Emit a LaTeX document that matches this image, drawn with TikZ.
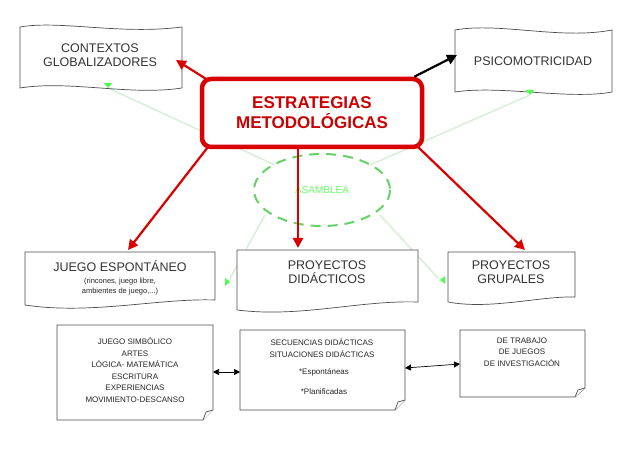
\documentclass[tikz,border=0pt]{standalone}
\usepackage{fontspec}
\setmainfont{Liberation Sans}
\usetikzlibrary{arrows.meta}
\begin{document}
\begin{tikzpicture}[x=1pt,y=-1pt,
  box/.style={draw=black!70,line width=0.7pt,fill=white},
  lbl/.style={align=center,font=\fontsize{12.5}{14}\selectfont,text=black!80},
  sm/.style={align=center,font=\fontsize{8}{11.5}\selectfont,text=black!85},
  redarr/.style={draw=red!85!black,line width=2.2pt,-{Triangle[length=10pt,width=10pt]}},
  greenl/.style={draw=green!60!black!40,line width=1.5pt,opacity=0.4},
  dbl/.style={draw=black,line width=0.7pt,{Triangle[length=6pt,width=6pt]}-{Triangle[length=6pt,width=6pt]}}]
\useasboundingbox (0,0) rectangle (640,449);
% green faint lines
\draw[greenl] (275,165) -- (108,88);
\draw[greenl] (370,165) -- (530,95);
\draw[greenl] (265,215) -- (228,282);
\draw[greenl] (380,215) -- (438,278);
\draw[draw=green!70!black!60,line width=2pt,dash pattern=on 10pt off 7pt] (322,190) ellipse (68 and 36);
\node[text=green!60,font=\fontsize{10}{11}\selectfont] (asam) at (322,190) {ASAMBLEA};
% top boxes
\draw[box] (20,27) .. controls (60,20) and (120,35) .. (182,27) -- (182,88) .. controls (130,96) and (70,80) .. (20,88) -- cycle;
\node[lbl] (ctx) at (100,55) {CONTEXTOS\\GLOBALIZADORES};
\draw[box] (455,30) .. controls (500,22) and (560,40) .. (612,30) -- (612,92) .. controls (570,100) and (500,85) .. (455,92) -- cycle;
\node[lbl] (psi) at (533,61) {PSICOMOTRICIDAD};
\fill[green!70] (108,88) -- ++(-4,-5) -- ++(8,0) -- cycle;
\fill[green!70] (530,95) -- ++(-4,-5) -- ++(8,0) -- cycle;
% middle boxes
\draw[box] (25,252) -- (215,252) -- (215,300) .. controls (160,298) and (90,315) .. (25,305) -- cycle;
\node[lbl] (je) at (120,266) {JUEGO ESPONTÁNEO};
\node[sm,font=\fontsize{7.5}{10}\selectfont] (jes) at (120,287) {(rincones, juego libre,\\ambientes de juego,...)};
\draw[box] (237,250) -- (418,250) -- (418,302) .. controls (360,300) and (300,318) .. (237,310) -- cycle;
\node[lbl] (pd) at (327,272) {PROYECTOS\\DIDÁCTICOS};
\draw[box] (448,252) -- (575,252) -- (575,297) .. controls (540,296) and (490,310) .. (448,302) -- cycle;
\node[lbl] (pg) at (511,272) {PROYECTOS\\GRUPALES};
\fill[green!70] (230,282) -- ++(-5,-4) -- ++(0,8) -- cycle;
\fill[green!70] (440,280) -- ++(5,-4) -- ++(0,8) -- cycle;
% central
\node[draw=red!85!black,line width=4.5pt,rounded corners=9pt,fill=white,minimum width=220pt,minimum height=68pt,align=center,text=red!80!black,font=\bfseries\fontsize{17}{20}\selectfont] (main) at (312,113) {ESTRATEGIAS\\METODOLÓGICAS};
\draw[redarr] (main.north west) ++(6,2) -- (176,60);
\draw[draw=black,line width=2.2pt,-{Triangle[length=10pt,width=10pt]}] (main.north east) ++(-10,0) -- (457,55);
\draw[redarr] (main.south west) ++(8,-2) -- (128,250);
\draw[redarr] (main.south) ++(-14,0) -- (298,248);
\draw[redarr] (main.south east) ++(-6,-2) -- (525,250);
% bottom boxes
\draw[box] (57,325) -- (213,325) -- (213,410) -- (203,420) -- (57,420) -- cycle;
\draw[box] (203,420) -- (206,412) -- (213,410);
\node[sm] (js) at (135,370) {JUEGO SIMBÓLICO\\ARTES\\LÓGICA- MATEMÁTICA\\ESCRITURA\\EXPERIENCIAS\\MOVIMIENTO-DESCANSO};
\draw[box] (240,330) -- (405,330) -- (405,400) -- (395,410) -- (240,410) -- cycle;
\draw[box] (395,410) -- (398,402) -- (405,400);
\node[sm] (sec) at (322,348) {SECUENCIAS DIDÁCTICAS\\SITUACIONES DIDÁCTICAS};
\node[sm] (esp) at (324,372) {*Espontáneas};
\node[sm] (pla) at (324,392) {*Planificadas};
\draw[box] (460,330) -- (585,330) -- (585,388) -- (575,397) -- (460,397) -- cycle;
\draw[box] (575,397) -- (578,390) -- (585,388);
\node[sm] (dt) at (522,352) {DE TRABAJO\\DE JUEGOS\\DE INVESTIGACIÓN};
\coordinate (a1) at (213,372);
\coordinate (a2) at (240,372);
\coordinate (b1) at (405,368);
\coordinate (b2) at (460,364);
\draw[dbl] (a1) -- (a2);
\draw[dbl] (b1) -- (b2);
\end{tikzpicture}
\end{document}
